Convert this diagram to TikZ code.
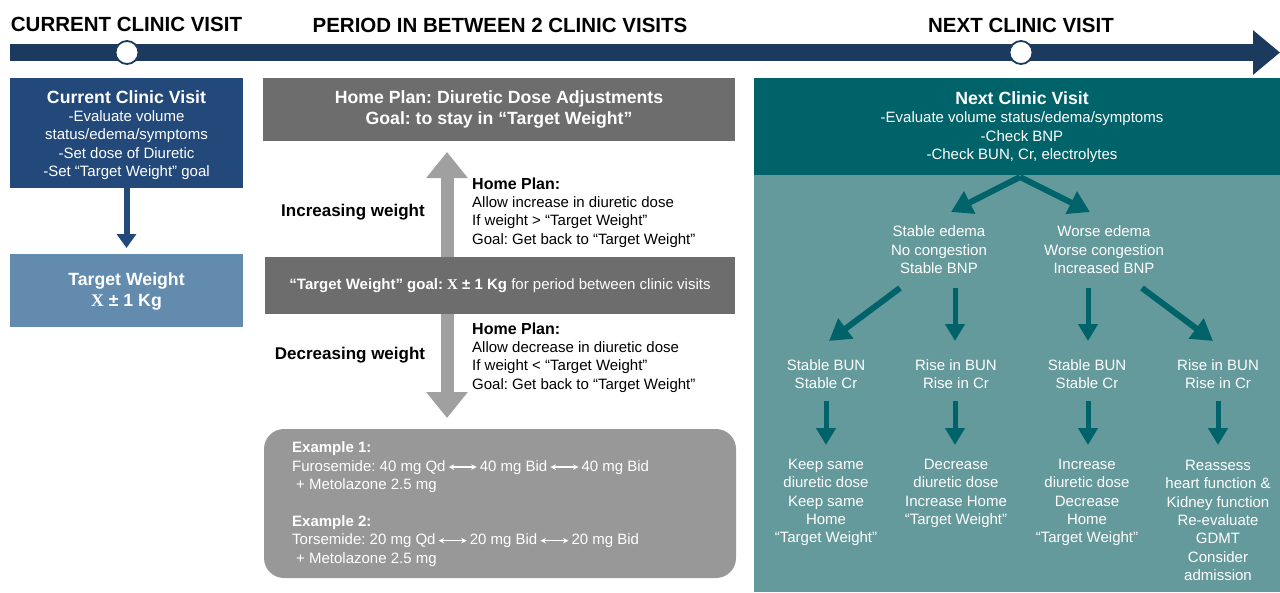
\documentclass[tikz,border=0pt]{standalone}
\usepackage{fontspec}
\setmainfont{Liberation Sans}
\newfontfamily\serifX{Liberation Serif}
\usetikzlibrary{arrows.meta}
\definecolor{navy}{HTML}{1C3A5E}
\definecolor{cvblue}{HTML}{22497A}
\definecolor{twblue}{HTML}{628BAE}
\definecolor{greyd}{HTML}{6D6D6D}
\definecolor{greya}{HTML}{A0A0A0}
\definecolor{greyex}{HTML}{989898}
\definecolor{tealdark}{HTML}{00636A}
\definecolor{teallight}{HTML}{659A9C}
\newcommand\myLR{\tikz[baseline=-4pt]\draw[white, line width=1.2pt, {Stealth[length=5.5pt,width=5.5pt]}-{Stealth[length=5.5pt,width=5.5pt]}] (0pt,0pt) -- (28pt,0pt);}
\newcommand\bigX{{\serifX\bfseries X}}
\newcommand\ttlf{\fontsize{17.7pt}{21pt}\selectfont\bfseries}
\frenchspacing
\begin{document}
\begin{tikzpicture}[x=1pt,y=-1pt,
  hdr/.style={font=\fontsize{20.5pt}{24pt}\selectfont\bfseries, inner sep=0pt, text=black},
  wtxt/.style={text=white, align=center, inner sep=0pt, font=\fontsize{15pt}{18.4pt}\selectfont},
  ltxt/.style={text=black, align=left, inner sep=0pt, font=\fontsize{15pt}{18.4pt}\selectfont},
  wlbl/.style={text=black, inner sep=0pt, font=\fontsize{17pt}{20pt}\selectfont\bfseries},
  box/.style={inner sep=0pt, outer sep=0pt, draw=none},
  dot/.style={circle, draw=navy, fill=white, line width=1.8pt, minimum size=23pt, inner sep=0pt},
  tealarr/.style={draw=tealdark, line width=5pt, -{Triangle[width=19pt,length=17pt]}},
  tealdiag/.style={draw=tealdark, line width=6pt, -{Triangle[width=24pt,length=21pt]}},
]
\useasboundingbox (0,0) rectangle (1280,592);
% timeline
\coordinate (tl0) at (10,52.5);
\coordinate (tl1) at (1280,52.5);
\draw[navy, line width=17pt, -{Triangle[width=43pt,length=27pt]}] (tl0) -- (tl1);
\node[dot] (c1) at (127,52.5) {};
\node[dot] (c2) at (1021,52.5) {};
\node[hdr] (h1) at (126.5,24.5) {CURRENT CLINIC VISIT};
\node[hdr] (h2) at (500,25.5) {PERIOD IN BETWEEN 2 CLINIC VISITS};
\node[hdr] (h3) at (1021,25.5) {NEXT CLINIC VISIT};
% left column
\node[box, fill=cvblue, minimum width=233pt, minimum height=110pt] (cv) at (126.5,133) {};
\node[wtxt] (cvl) at (126.5,135) {{\ttlf Current Clinic Visit}\\-Evaluate volume\\status/edema/symptoms\\-Set dose of Diuretic\\-Set “Target Weight” goal};
\node[box, fill=twblue, minimum width=233pt, minimum height=73pt] (tw) at (126.5,290.5) {};
\node[wtxt, font=\ttlf] (twl) at (126.5,291.5) {Target Weight\\\bigX\ ± 1 Kg};
\draw[cvblue, line width=6pt, -{Triangle[width=19pt,length=14pt]}, shorten >=6pt] (cv.south) -- (tw.north);
% middle column
\node[box, fill=greyd, minimum width=472pt, minimum height=63pt] (hp) at (499,109.5) {};
\node[wtxt, font=\ttlf] (hpl) at (499,109.5) {Home Plan: Diuretic Dose Adjustments\\Goal: to stay in “Target Weight”};
\coordinate (ga1) at (447,152);
\coordinate (ga2) at (447,418);
\draw[draw=greya, line width=13pt, {Triangle[width=40pt,length=26pt]}-{Triangle[width=40pt,length=26pt]}] (ga1) -- (ga2);
\node[box, fill=greyd, minimum width=470pt, minimum height=57pt] (gb) at (500,285.5) {};
\node[wtxt] (gbl) at (500,286) {\textbf{“Target Weight” goal: \bigX\ ± 1 Kg} for period between clinic visits};
\node[wlbl] (inc) at (353,212) {Increasing weight};
\node[wlbl] (dec) at (350,355) {Decreasing weight};
\node[ltxt, anchor=west] (hp1) at (472,212.5) {{\fontsize{16pt}{18.4pt}\selectfont\bfseries Home Plan:}\\Allow increase in diuretic dose\\If weight > “Target Weight”\\Goal: Get back to “Target Weight”};
\node[ltxt, anchor=west] (hp2) at (472,357.5) {{\fontsize{16pt}{18.4pt}\selectfont\bfseries Home Plan:}\\Allow decrease in diuretic dose\\If weight < “Target Weight”\\Goal: Get back to “Target Weight”};
\node[box, fill=greyex, rounded corners=20pt, minimum width=472pt, minimum height=149pt] (ex) at (500,503.5) {};
\node[wtxt, align=left, anchor=west] (exl) at (292,504) {\textbf{Example 1:}\\Furosemide: 40 mg Qd\hspace{2.5pt}\myLR\hspace{2.5pt}40 mg Bid\hspace{2.5pt}\myLR\hspace{2.5pt}40 mg Bid\\\hspace*{4pt}+ Metolazone 2.5 mg\\[18.4pt]\textbf{Example 2:}\\Torsemide: 20 mg Qd\hspace{2.5pt}\myLR\hspace{2.5pt}20 mg Bid\hspace{2.5pt}\myLR\hspace{2.5pt}20 mg Bid\\\hspace*{4pt}+ Metolazone 2.5 mg};
% right column
\node[box, fill=teallight, minimum width=526pt, minimum height=417pt] (nl) at (1017,383.5) {};
\node[box, fill=tealdark, minimum width=526pt, minimum height=97pt] (nd) at (1017,126.5) {};
\node[wtxt] (ndl) at (1022,127) {{\ttlf Next Clinic Visit}\\-Evaluate volume status/edema/symptoms\\-Check BNP\\-Check BUN, Cr, electrolytes};
\node[wtxt] (s2a) at (939,250) {Stable edema\\No congestion\\Stable BNP};
\node[wtxt] (s2b) at (1104,250) {Worse edema\\Worse congestion\\Increased BNP};
\node[wtxt] (s3a) at (826,374) {Stable BUN\\Stable Cr};
\node[wtxt] (s3b) at (956,374) {Rise in BUN\\Rise in Cr};
\node[wtxt] (s3c) at (1087,374) {Stable BUN\\Stable Cr};
\node[wtxt] (s3d) at (1218,374) {Rise in BUN\\Rise in Cr};
\node[wtxt] (s4a) at (826,502.5) {Keep same\\diuretic dose\\Keep same\\Home\\“Target Weight”};
\node[wtxt] (s4b) at (956,493.5) {Decrease\\diuretic dose\\Increase Home\\“Target Weight”};
\node[wtxt] (s4c) at (1087,502.5) {Increase\\diuretic dose\\Decrease\\Home\\“Target Weight”};
\node[wtxt] (s4d) at (1218,520.5) {Reassess\\heart function \&\\Kidney function\\Re-evaluate\\GDMT\\Consider\\admission};
% tree arrows
\coordinate (r0) at (1020,177);
\coordinate (r1) at (951,212);
\coordinate (r2) at (1090,212);
\draw[tealdiag] (r0) -- (r1);
\draw[tealdiag] (r0) -- (r2);
\coordinate (a1s) at (900,288); \coordinate (a1e) at (829,341);
\coordinate (a2s) at (955,288); \coordinate (a2e) at (955,341);
\coordinate (a3s) at (1088,288); \coordinate (a3e) at (1088,341);
\coordinate (a4s) at (1142,288); \coordinate (a4e) at (1213,341);
\draw[tealdiag] (a1s) -- (a1e);
\draw[tealarr] (a2s) -- (a2e);
\draw[tealarr] (a3s) -- (a3e);
\draw[tealdiag] (a4s) -- (a4e);
\coordinate (b1s) at (826,401); \coordinate (b1e) at (826,445);
\coordinate (b2s) at (955,401); \coordinate (b2e) at (955,445);
\coordinate (b3s) at (1088,401); \coordinate (b3e) at (1088,445);
\coordinate (b4s) at (1218,401); \coordinate (b4e) at (1218,445);
\draw[tealarr] (b1s) -- (b1e);
\draw[tealarr] (b2s) -- (b2e);
\draw[tealarr] (b3s) -- (b3e);
\draw[tealarr] (b4s) -- (b4e);
\end{tikzpicture}
\end{document}
